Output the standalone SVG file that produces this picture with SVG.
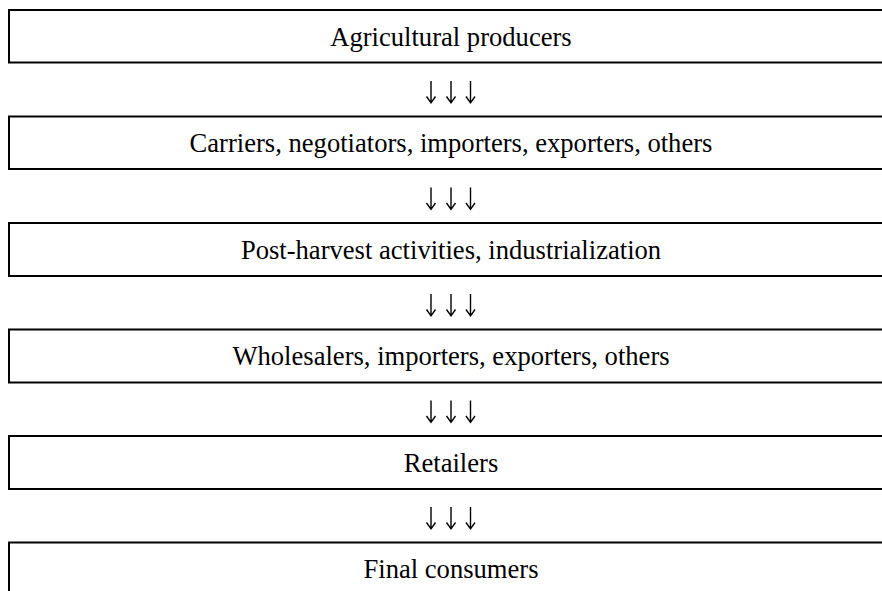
<svg xmlns="http://www.w3.org/2000/svg" width="882" height="591" viewBox="0 0 882 591">
<style>
.box{fill:#fff;stroke:#000;stroke-width:2}
.t{font-family:"Liberation Serif","Times New Roman",serif;font-size:26.6px;fill:#000;text-anchor:middle}
.ar{fill:none;stroke:#000;stroke-width:1.4;stroke-linecap:butt;stroke-linejoin:miter}
</style>
<defs>
<g id="arr">
<path class="ar" d="M0 0V21.5M-4.5 15.5L0 21.8L4.5 15.5"/>
</g>
<g id="arr3">
<use href="#arr" x="-20"/><use href="#arr" x="0"/><use href="#arr" x="19.5"/>
</g>
</defs>
<rect width="882" height="591" fill="#fff"/>
<g id="n1"><rect class="box" x="9" y="10" width="900" height="52.5"/><text class="t" x="451" y="45.5">Agricultural producers</text></g>
<g id="n2"><rect class="box" x="9" y="116.5" width="900" height="52.5"/><text class="t" x="451" y="152">Carriers, negotiators, importers, exporters, others</text></g>
<g id="n3"><rect class="box" x="9" y="223" width="900" height="53"/><text class="t" x="451" y="258.5">Post-harvest activities, industrialization</text></g>
<g id="n4"><rect class="box" x="9" y="329.5" width="900" height="53"/><text class="t" x="451" y="365">Wholesalers, importers, exporters, others</text></g>
<g id="n5"><rect class="box" x="9" y="436" width="900" height="53"/><text class="t" x="451" y="471.5">Retailers</text></g>
<g id="n6"><rect class="box" x="9" y="542.5" width="900" height="80"/><text class="t" x="451" y="578">Final consumers</text></g>
<g id="connectors">
<use href="#arr3" x="451" y="81"/>
<use href="#arr3" x="451" y="187.5"/>
<use href="#arr3" x="451" y="294"/>
<use href="#arr3" x="451" y="400.5"/>
<use href="#arr3" x="451" y="507"/>
</g>
</svg>
